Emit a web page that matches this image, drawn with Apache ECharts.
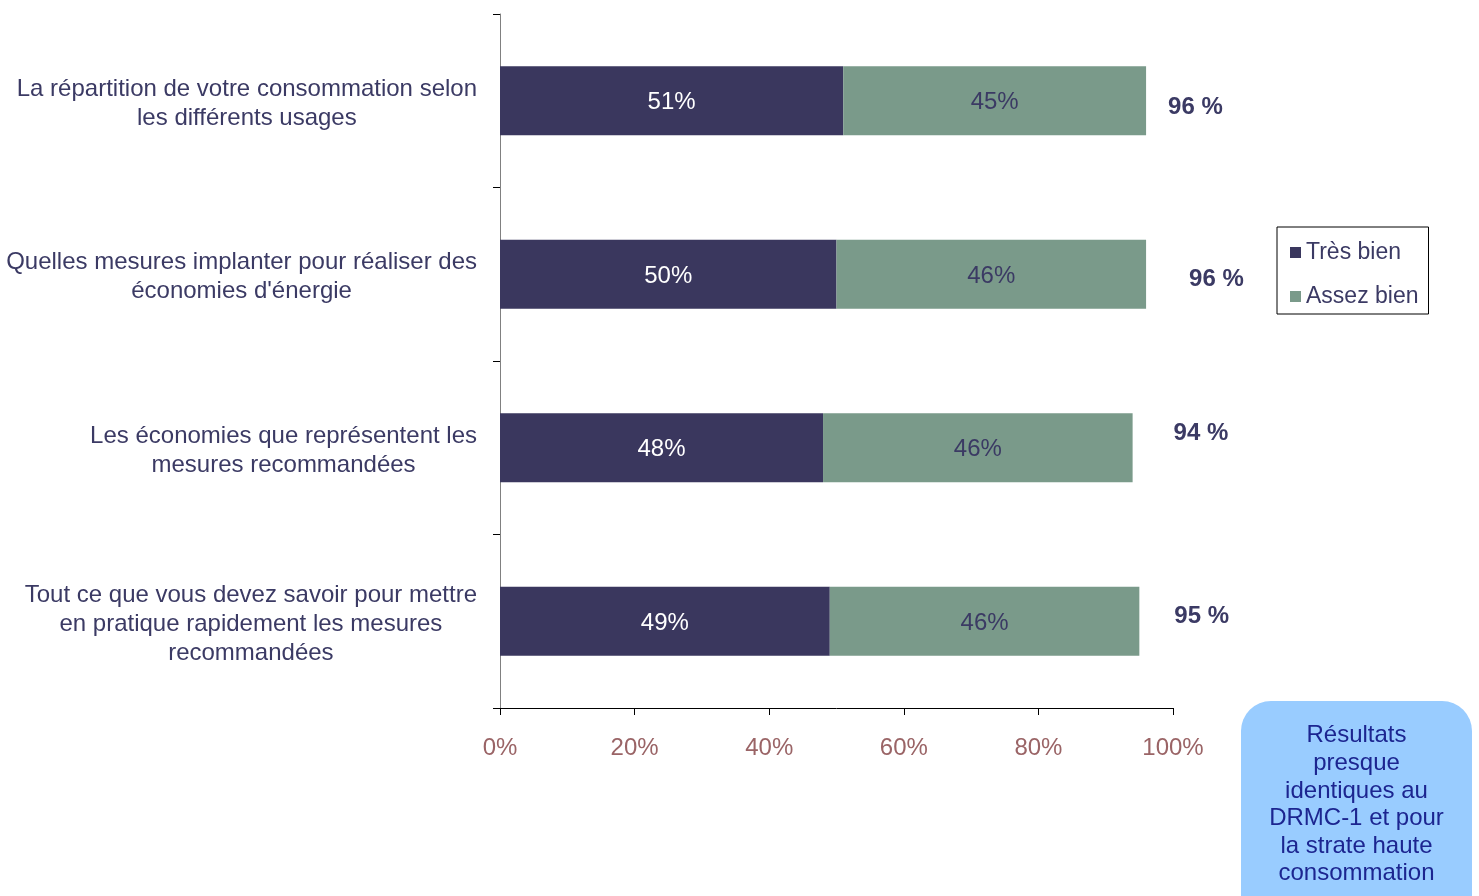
<!DOCTYPE html>
<html>
<head>
<meta charset="utf-8">
<script src="https://cdn.jsdelivr.net/npm/echarts@6/dist/echarts.min.js"></script>
<style>
  html, body { margin: 0; padding: 0; background: #ffffff; }
  #chart { width: 1479px; height: 896px; }
</style>
</head>
<body>
<div id="chart"></div>
<script>
// Survey items (top to bottom)
const categories = [
  'La répartition de votre consommation selon\nles différents usages',
  "Quelles mesures implanter pour réaliser des\néconomies d'énergie",
  'Les économies que représentent les\nmesures recommandées',
  'Tout ce que vous devez savoir pour mettre\nen pratique rapidement les mesures\nrecommandées'
];
const tresBien = [51, 50, 48, 49];
const assezBien = [45, 46, 46, 46];
const xTicks = [0, 20, 40, 60, 80, 100];
const noteLines = ['Résultats', 'presque', 'identiques au', 'DRMC-1 et pour', 'la strate haute', 'consommation'];

const totals = tresBien.map((v, i) => v + assezBien[i]);

// Placement of the total labels next to each bar
const totalOffsets = [[17, 7], [38, 5], [36, -14], [30, -5]];

const FONT = '"Liberation Sans", Arial, sans-serif';
const NAVY = '#3b3a64';

const chart = echarts.init(document.getElementById('chart'), null, { renderer: 'canvas' });

chart.setOption({
  animation: false,
  backgroundColor: '#ffffff',
  textStyle: { fontFamily: FONT },
  grid: { left: 500, right: 306, top: 14, bottom: 188, containLabel: false },
  legend: {
    data: ['Très bien', 'Assez bien'],
    orient: 'vertical',
    left: 1277,
    top: 227,
    padding: [14, 10, 6, 13],
    itemGap: 21,
    itemWidth: 11,
    itemHeight: 11,
    icon: 'rect',
    borderColor: '#000000',
    borderWidth: 1,
    textStyle: { color: NAVY, fontSize: 23, fontFamily: FONT },
    selectedMode: false
  },
  xAxis: {
    type: 'value',
    min: 0,
    max: 100,
    interval: 20,
    axisLine: { show: true, lineStyle: { color: '#000000', width: 1 } },
    axisTick: { show: true, length: 7, lineStyle: { color: '#000000' } },
    splitLine: { show: false },
    axisLabel: {
      margin: 28,
      color: '#9a6466',
      fontSize: 24,
      fontFamily: FONT,
      formatter: v => (xTicks.indexOf(v) >= 0 ? v + '%' : '')
    }
  },
  yAxis: {
    type: 'category',
    inverse: true,
    data: categories,
    axisLine: { show: true, lineStyle: { color: '#808080', width: 1 } },
    axisTick: { show: true, length: 7, inside: false, lineStyle: { color: '#000000' } },
    axisLabel: {
      margin: 23,
      align: 'right',
      padding: [6, 0, 0, 0],
      formatter: v => v.split('\n').map(s => '{c|' + s + '}').join('\n'),
      rich: {
        c: { align: 'center', color: NAVY, fontSize: 24, lineHeight: 29, fontFamily: FONT }
      }
    }
  },
  series: [
    {
      name: 'Très bien',
      type: 'bar',
      stack: 'total',
      barWidth: 69,
      data: tresBien,
      itemStyle: { color: '#3a375e' },
      label: {
        show: true,
        position: 'inside',
        offset: [0, 2],
        color: '#ffffff',
        fontSize: 24,
        fontFamily: FONT,
        formatter: p => p.value + '%'
      }
    },
    {
      name: 'Assez bien',
      type: 'bar',
      stack: 'total',
      barWidth: 69,
      data: assezBien,
      itemStyle: { color: '#7a9a8a' },
      label: {
        show: true,
        position: 'inside',
        offset: [0, 2],
        color: NAVY,
        fontSize: 24,
        fontFamily: FONT,
        formatter: p => p.value + '%'
      }
    },
    {
      name: 'Total',
      type: 'bar',
      stack: 'total',
      barWidth: 69,
      silent: true,
      itemStyle: { color: 'rgba(0,0,0,0)' },
      data: totals.map((t, i) => ({
        value: 0,
        label: { offset: totalOffsets[i] }
      })),
      label: {
        show: true,
        position: 'right',
        distance: 5,
        color: NAVY,
        fontSize: 24,
        fontWeight: 'bold',
        fontFamily: FONT,
        formatter: p => totals[p.dataIndex] + ' %'
      }
    }
  ],
  graphic: [
    {
      type: 'group',
      left: 1241,
      top: 701,
      children: [
        {
          type: 'rect',
          shape: { x: 0, y: 0, width: 231, height: 230, r: 30 },
          style: { fill: '#99ccff' }
        },
        {
          type: 'text',
          x: 115.5,
          y: 21,
          style: {
            text: noteLines.join('\n'),
            fill: '#1c2590',
            font: '24px ' + FONT,
            lineHeight: 27.6,
            align: 'center',
            verticalAlign: 'top'
          }
        }
      ]
    }
  ]
});
</script>
</body>
</html>
